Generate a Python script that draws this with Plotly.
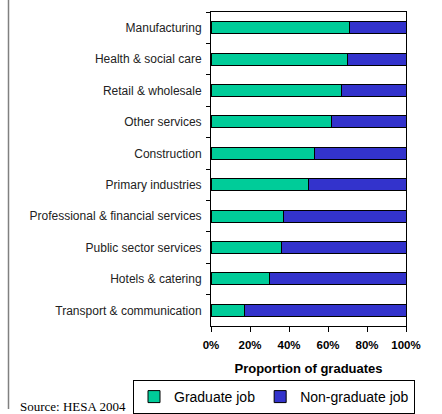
import plotly.graph_objects as go

# Sectors, listed top to bottom
sectors = [
    "Manufacturing",
    "Health & social care",
    "Retail & wholesale",
    "Other services",
    "Construction",
    "Primary industries",
    "Professional & financial services",
    "Public sector services",
    "Hotels & catering",
    "Transport & communication",
]
graduate_job = [71, 70, 67, 62, 53, 50, 37, 36, 30, 17]
non_graduate_job = [29, 30, 33, 38, 47, 50, 63, 64, 70, 83]
x_tick_values = [0, 20, 40, 60, 80, 100]
x_tick_labels = ["0%", "20%", "40%", "60%", "80%", "100%"]

GREEN = "#00CC99"
BLUE = "#3333CC"
FONT = "Liberation Sans, Arial, sans-serif"

fig = go.Figure()
fig.add_trace(go.Bar(
    y=sectors, x=graduate_job, orientation="h", name="Graduate job",
    marker=dict(color=GREEN, line=dict(color="black", width=1)),
))
fig.add_trace(go.Bar(
    y=sectors, x=non_graduate_job, orientation="h", name="Non-graduate job",
    marker=dict(color=BLUE, line=dict(color="black", width=1)),
))

L, R, T, B = 211, 36, 12, 88
W, H = 442, 414
pw, ph = W - L - R, H - T - B

def px_x(x):
    return (x - L) / pw

def px_y(y):
    return (H - B - y) / ph

fig.update_layout(
    width=W, height=H,
    margin=dict(l=L, r=R, t=T, b=B, pad=0, autoexpand=False),
    barmode="stack",
    bargap=0.62,
    paper_bgcolor="white",
    plot_bgcolor="white",
    font=dict(family=FONT, color="black"),
    showlegend=True,
    legend=dict(
        orientation="h",
        x=px_x(133), y=px_y(380), xanchor="left", yanchor="top",
        bordercolor="black", borderwidth=1,
        font=dict(size=14, family=FONT, color="black"),
        itemwidth=30, tracegroupgap=0,
        traceorder="normal",
    ),
    xaxis=dict(
        range=[0, 100],
        tickvals=x_tick_values, ticktext=x_tick_labels,
        ticks="outside", ticklen=5, tickcolor="black",
        ticklabelstandoff=3,
        tickfont=dict(size=11.5, family=FONT, weight="bold", color="black"),
        showline=True, linecolor="black", linewidth=1, mirror=True,
        showgrid=False, zeroline=False, automargin=False,
        title=dict(text="Proportion of graduates",
                   font=dict(size=13, family=FONT, weight="bold", color="black"),
                   standoff=14),
    ),
    yaxis=dict(
        autorange="reversed",
        tickson="boundaries",
        ticks="outside", ticklen=4, tickcolor="black",
        tickfont=dict(size=12, family=FONT, color="#222222"),
        showline=True, linecolor="black", linewidth=1, mirror=True,
        showgrid=False, zeroline=False, automargin=False,
        ticklabelstandoff=6,
    ),
)

# thin rule down the left side of the figure
fig.add_shape(
    type="line", xref="paper", yref="paper",
    x0=px_x(8.5), x1=px_x(8.5), y0=px_y(0), y1=px_y(409),
    line=dict(color="#808080", width=1.5),
)

fig.add_annotation(
    text="Source: HESA 2004", xref="paper", yref="paper",
    x=px_x(18), y=px_y(406), xanchor="left", yanchor="middle",
    showarrow=False,
    font=dict(family="Liberation Serif, Times New Roman, serif", size=13, color="black"),
)

fig.write_html("out.html")
